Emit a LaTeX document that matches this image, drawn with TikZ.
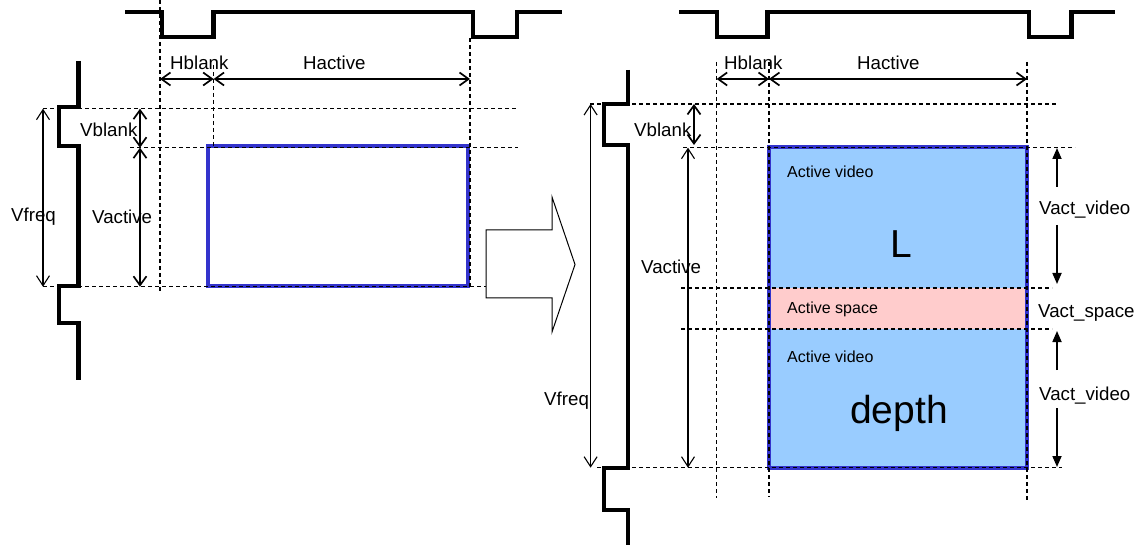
\documentclass[tikz,border=0pt]{standalone}
\usepackage{fontspec}
\setmainfont{Liberation Sans}
\usetikzlibrary{arrows.meta}
\definecolor{frameblue}{RGB}{51,51,204}
\definecolor{vidblue}{RGB}{153,204,255}
\definecolor{spacepink}{RGB}{255,204,204}
\tikzset{
  wave/.style={line width=4.3pt, line join=miter},
  guide/.style={line width=1.2pt, dash pattern=on 4pt off 3pt},
  dimthick/.style={line width=1.7pt, {Straight Barb[length=9pt,width=13pt]}-{Straight Barb[length=9pt,width=13pt]}},
  dimthin/.style={line width=1.1pt, {Straight Barb[length=10pt,width=13pt]}-{Straight Barb[length=10pt,width=13pt]}},
  fillhead/.style={line width=1.7pt, -{Triangle[length=11pt,width=9pt]}},
  lbl/.style={font=\fontsize{18.7}{20}\selectfont, inner sep=0pt, anchor=base west},
  smalltxt/.style={font=\fontsize{16}{18}\selectfont, inner sep=0pt, anchor=base west},
  bigtxt/.style={font=\fontsize{39}{42}\selectfont, inner sep=0pt, anchor=base},
  frame/.style={draw=frameblue, line width=4.3pt},
  hollow/.style={draw=black, line width=1pt, fill=white, line join=miter}
}
\begin{document}
\begin{tikzpicture}[x=1pt,y=-1pt]
\useasboundingbox (0,0) rectangle (1143,545);

% ================= LEFT DIAGRAM =================
% top waveform
\draw[wave] (125,12.3) -- (162,12.3) -- (162,37.3) -- (213.6,37.3) -- (213.6,12.3)
  -- (473,12.3) -- (473,37.3) -- (517,37.3) -- (517,12.3) -- (562,12.3);
% vertical waveform
\draw[wave] (78.6,61) -- (78.6,107.3) -- (59,107.3) -- (59,145.7) -- (78.6,145.7)
  -- (78.6,286) -- (59,286) -- (59,323.3) -- (78.6,323.3) -- (78.6,380);

% active rectangle
\draw[frame] (208,146) rectangle (468,286);

% guides
\draw[guide] (160,0) -- (160,293);
\draw[guide] (213.6,65) -- (213.6,146);
\draw[guide] (470,38) -- (470,289);
\draw[guide] (43,108.7) -- (518,108.7);
\draw[guide] (130,147.7) -- (518,147.7);
\draw[guide] (43,286.7) -- (486,286.7);

% dimension coordinates
\coordinate (lh0) at (160,79);
\coordinate (lh1) at (213.6,79);
\coordinate (lh2) at (470,79);
\coordinate (lf0) at (43,108.7);
\coordinate (lf1) at (43,286.7);
\coordinate (lv0) at (140,108.7);
\coordinate (lv1) at (140,147.7);
\coordinate (lv2) at (140,286.7);
\draw[dimthick] (lh0) -- (lh1);
\draw[dimthick] (lh1) -- (lh2);
\draw[dimthin] (lf0) -- (lf1);
\draw[dimthick] (lv0) -- (lv1);
\draw[dimthick] (lv1) -- (lv2);

\node[lbl] (lhb) at (170,70) {Hblank};
\node[lbl] (lha) at (303,70) {Hactive};
\node[lbl] (lvb) at (80,137) {Vblank};
\node[lbl] (lva) at (92,224) {Vactive};
\node[lbl] (lvf) at (11,222) {Vfreq};

% ================= BIG HOLLOW ARROW =================
\draw[hollow] (486,230) -- (552,230) -- (552,197) -- (575,264.5) -- (552,332)
  -- (552,298) -- (486,298) -- cycle;

% ================= RIGHT DIAGRAM =================
\draw[wave] (679,12.3) -- (717,12.3) -- (717,37.3) -- (767.5,37.3) -- (767.5,12.3)
  -- (1028.7,12.3) -- (1028.7,37.3) -- (1071.6,37.3) -- (1071.6,12.3) -- (1115,12.3);
\draw[wave] (628,70) -- (628,104) -- (604,104) -- (604,145) -- (628,145)
  -- (628,468) -- (604,468) -- (604,510) -- (628,510) -- (628,545);

% filled frame
\fill[vidblue] (769,147) rectangle (1027,468);
\fill[spacepink] (769,288) rectangle (1027,329);
\draw[frame] (769,147) rectangle (1027,468);

% guides
\draw[guide] (716.7,62) -- (716.7,498);
\draw[guide] (769,62) -- (769,497);
\draw[guide] (1027,62) -- (1027,500);
\draw[guide] (590,104) -- (1056,104);
\draw[guide] (683,147.7) -- (1075,147.7);
\draw[guide] (681,288) -- (1052,288);
\draw[guide] (681,329) -- (1052,329);
\draw[guide] (597,467.7) -- (1062,467.7);

\coordinate (rh0) at (716.7,79);
\coordinate (rh1) at (769,79);
\coordinate (rh2) at (1027,79);
\coordinate (rf0) at (590.6,104);
\coordinate (rf1) at (590.6,467.7);
\coordinate (rb0) at (694,104);
\coordinate (rb1) at (694,145);
\coordinate (ra0) at (688,147.7);
\coordinate (ra1) at (688,467.7);
\draw[dimthick] (rh0) -- (rh1);
\draw[dimthick] (rh1) -- (rh2);
\draw[dimthin] (rf0) -- (rf1);
\draw[dimthick] (rb0) -- (rb1);
\draw[dimthin] (ra0) -- (ra1);

% Vact arrows
\coordinate (v1a) at (1057,187);
\coordinate (v1t) at (1057,148);
\coordinate (v1b) at (1057,225);
\coordinate (v1e) at (1057,284);
\coordinate (v2a) at (1057,370);
\coordinate (v2t) at (1057,331);
\coordinate (v2b) at (1057,408);
\coordinate (v2e) at (1057,467);
\draw[fillhead] (v1a) -- (v1t);
\draw[fillhead] (v1b) -- (v1e);
\draw[fillhead] (v2a) -- (v2t);
\draw[fillhead] (v2b) -- (v2e);

\node[lbl] (rhb) at (724,70) {Hblank};
\node[lbl] (rha) at (857,70) {Hactive};
\node[lbl] (rvb) at (634,137) {Vblank};
\node[lbl] (rva) at (641,274) {Vactive};
\node[lbl] (rvf) at (544,405) {Vfreq};
\node[lbl] (vv1) at (1039,215) {Vact\_video};
\node[lbl] (vsp) at (1038,318) {Vact\_space};
\node[lbl] (vv2) at (1039,400) {Vact\_video};

\node[smalltxt] (av1) at (787,178) {Active video};
\node[smalltxt] (asp) at (787,313) {Active space};
\node[smalltxt] (av2) at (787,362) {Active video};
\node[bigtxt] (Ltxt) at (901,258) {L};
\node[bigtxt] (dtxt) at (899,423) {depth};
\end{tikzpicture}
\end{document}
